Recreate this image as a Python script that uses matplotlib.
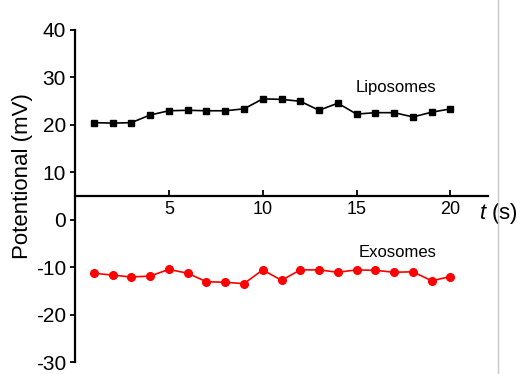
import matplotlib.pyplot as plt
import numpy as np

plt.rcParams['font.family'] = ['Liberation Sans', 'DejaVu Sans']
plt.rcParams['axes.unicode_minus'] = False
plt.rcParams['mathtext.fontset'] = 'custom'
plt.rcParams['mathtext.it'] = 'Liberation Sans:italic'
plt.rcParams['mathtext.rm'] = 'Liberation Sans'

# time points
t = np.arange(1, 21)

# zeta potential readings (mV)
liposomes = [20.4, 20.3, 20.4, 22.0, 22.9, 23.0, 22.9, 22.9, 23.3, 25.4,
             25.3, 24.9, 23.0, 24.5, 22.2, 22.5, 22.5, 21.6, 22.6, 23.3]
exosomes = [-11.3, -11.7, -12.1, -11.9, -10.5, -11.3, -13.1, -13.2, -13.5, -10.6,
            -12.8, -10.6, -10.6, -11.1, -10.6, -10.7, -11.1, -11.0, -12.9, -12.0]

yticks = [-30, -20, -10, 0, 10, 20, 30, 40]
xticks = [5, 10, 15, 20]

fig = plt.figure(figsize=(5.17, 3.74), dpi=100)
ax = fig.add_axes([0.145, 0.032, 0.799, 0.889])

ax.plot(t, liposomes, color='black', marker='s', markersize=5, linewidth=1.2)
ax.plot(t, exosomes, color='red', marker='o', markersize=5.5, linewidth=1.2)

ax.set_xlim(0, 22)
ax.set_ylim(-30, 40)

# x axis crosses at y = 5
ax.spines['bottom'].set_position(('data', 5))
ax.spines['top'].set_visible(False)
ax.spines['right'].set_visible(False)
ax.spines['left'].set_linewidth(1.6)
ax.spines['bottom'].set_linewidth(1.6)

ax.set_yticks(yticks)
ax.set_xticks(xticks)
ax.tick_params(axis='y', direction='out', length=3.5, width=1.3, labelsize=15, pad=3)
ax.tick_params(axis='x', direction='in', length=4, width=1.3, labelsize=13, pad=4)

# y label sits a bit above the axes centre in the original
fig.text(23 / 517, 1 - 176 / 374, 'Potentional (mV)', fontsize=16, rotation=90,
         ha='center', va='center')

ax.text(17.1, 27.9, 'Liposomes', fontsize=12, ha='center', va='center')
ax.text(17.2, -7.0, 'Exosomes', fontsize=12, ha='center', va='center')
ax.text(21.5, 1.3, '$t$ (s)', fontsize=16, ha='left', va='center', clip_on=False)

# thin grey separator on the right
fig.add_artist(plt.Line2D([0.963, 0.963], [0, 1], color='#c8c8c8', linewidth=1,
                          transform=fig.transFigure))

plt.savefig('out.png', dpi=100)
